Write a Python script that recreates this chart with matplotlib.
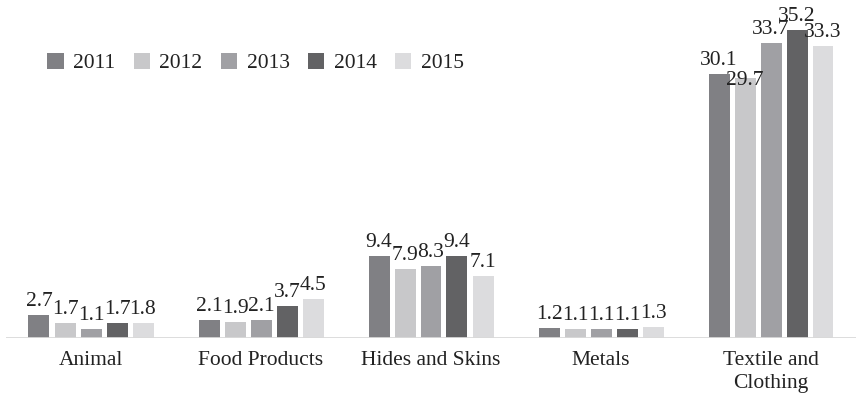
import matplotlib
matplotlib.use("Agg")
import matplotlib.pyplot as plt
import numpy as np

categories = ["Animal", "Food Products", "Hides and Skins", "Metals", "Textile and\nClothing"]
years = ["2011", "2012", "2013", "2014", "2015"]
values = {
    "2011": [2.7, 2.1, 9.4, 1.2, 30.1],
    "2012": [1.7, 1.9, 7.9, 1.1, 29.7],
    "2013": [1.1, 2.1, 8.3, 1.1, 33.7],
    "2014": [1.7, 3.7, 9.4, 1.1, 35.2],
    "2015": [1.8, 4.5, 7.1, 1.3, 33.3],
}
colors = ["#808084", "#c8c8ca", "#a0a0a4", "#626264", "#dcdcde"]

plt.rcParams['font.family'] = 'serif'
plt.rcParams['font.serif'] = ['Liberation Serif', 'DejaVu Serif']

W, H = 856, 393
fig = plt.figure(figsize=(W / 100, H / 100), dpi=100)
base = 338.3
ax = fig.add_axes([6 / W, (H - base) / H, 850 / W, base / H])
ax.set_xlim(-0.5, 4.5)
ax.set_ylim(0, base / 8.77)

fs = 15.5
x = np.arange(len(categories))
bw = 21 / 170
step = 26 / 170
handles = []
for i, y in enumerate(years):
    pos = x + (i - 2) * step
    b = ax.bar(pos, values[y], width=bw, color=colors[i], label=y, zorder=2)
    handles.append(b)
    for j, (px, v) in enumerate(zip(pos, values[y])):
        off = 4
        if y == "2012" and j == 4:
            off = -12
        ax.annotate(f"{v:.1f}", (px, v), xytext=(0, off), textcoords="offset pixels",
                    ha="center", va="bottom", fontsize=fs, color="#222222")

ax.axhline(0, color="#d9d9d9", lw=2, zorder=3)
for s in ax.spines.values():
    s.set_visible(False)
ax.set_yticks([])
ax.set_xticks(x)
ax.set_xticklabels(categories, fontsize=fs, color="#222222", linespacing=1.3)
ax.tick_params(axis="x", length=0, pad=9)

fig.legend(handles=handles, labels=years, loc="center left",
           bbox_to_anchor=(28 / W, 1 - 63 / H), ncol=5, frameon=False,
           fontsize=fs, handlelength=0.75, handleheight=0.75,
           handletextpad=0.45, columnspacing=0.85, labelcolor="#222222")

fig.savefig("out.png", dpi=100)
